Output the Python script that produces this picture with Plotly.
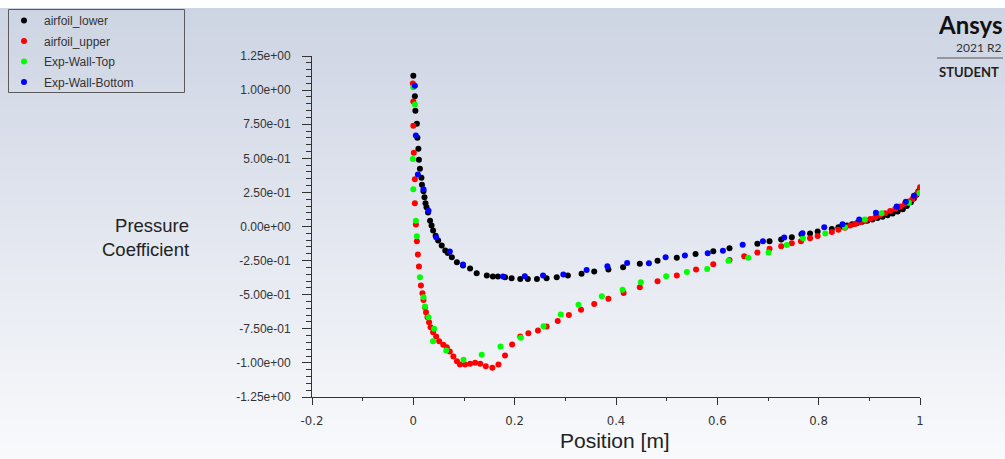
import plotly.graph_objects as go

# ---------------- data ----------------
lower_x = [0.000, 0.003, 0.004, 0.007, 0.008, 0.010, 0.011, 0.013, 0.016, 0.017, 0.020, 0.022,
           0.024, 0.026, 0.029, 0.033, 0.036, 0.039, 0.044, 0.049, 0.056, 0.063, 0.068, 0.076,
           0.086, 0.098, 0.112, 0.125, 0.145, 0.157, 0.167, 0.181, 0.194, 0.211, 0.226, 0.244,
           0.263, 0.283, 0.305, 0.332, 0.357, 0.385, 0.414, 0.447, 0.482, 0.520, 0.557, 0.592,
           0.624, 0.679, 0.703, 0.726, 0.747, 0.766, 0.783, 0.798, 0.826, 0.839,
           0.846, 0.856, 0.866, 0.876, 0.886, 0.896, 0.906, 0.916, 0.926, 0.936, 0.946, 0.956,
           0.966, 0.974, 0.982, 0.988, 0.993, 0.997, 1.000]
lower_y = [1.105, 0.954, 0.849, 0.754, 0.651, 0.570, 0.490, 0.424, 0.358, 0.307, 0.258, 0.214,
           0.170, 0.141, 0.102, 0.043, 0.007, -0.030, -0.067, -0.103, -0.140, -0.176, -0.195, -0.226,
           -0.262, -0.286, -0.308, -0.343, -0.360, -0.367, -0.367, -0.372, -0.379, -0.384, -0.384, -0.384,
           -0.379, -0.372, -0.360, -0.347, -0.330, -0.316, -0.299, -0.274, -0.252, -0.230, -0.201, -0.182,
           -0.160, -0.127, -0.108, -0.096, -0.079, -0.057, -0.052, -0.037, -0.018, -0.006,
           0.000, 0.008, 0.016, 0.025, 0.034, 0.043, 0.052, 0.062, 0.072, 0.083, 0.096, 0.110,
           0.127, 0.150, 0.178, 0.205, 0.232, 0.258, 0.272]

upper_x = [-0.001, 0.000, 0.000, 0.001, 0.003, 0.003, 0.005, 0.007, 0.009, 0.011, 0.015, 0.018,
           0.020, 0.023, 0.025, 0.028, 0.031, 0.034, 0.039, 0.045, 0.051, 0.059, 0.066, 0.072,
           0.079, 0.086, 0.092, 0.102, 0.112, 0.122, 0.132, 0.143, 0.156, 0.168, 0.181, 0.195,
           0.211, 0.227, 0.246, 0.263, 0.285, 0.307, 0.331, 0.357, 0.385, 0.415, 0.447, 0.482,
           0.520, 0.558, 0.592, 0.624, 0.653, 0.679, 0.703, 0.726, 0.747, 0.765, 0.783, 0.798,
           0.826, 0.839, 0.852, 0.862, 0.872, 0.882, 0.892, 0.902, 0.912, 0.921, 0.931, 0.941,
           0.951, 0.961, 0.970, 0.978, 0.985, 0.991, 0.996, 1.000]
upper_y = [1.049, 0.917, 0.739, 0.541, 0.347, 0.170, 0.014, -0.108, -0.206, -0.294, -0.433, -0.489,
           -0.538, -0.592, -0.629, -0.665, -0.702, -0.738, -0.775, -0.807, -0.841, -0.867, -0.885, -0.916,
           -0.953, -0.988, -1.012, -1.012, -1.007, -0.999, -1.007, -1.024, -1.036, -1.012, -0.946, -0.865,
           -0.807, -0.782, -0.763, -0.733, -0.692, -0.648, -0.611, -0.569, -0.530, -0.488, -0.445, -0.401,
           -0.360, -0.316, -0.277, -0.245, -0.218, -0.191, -0.164, -0.145, -0.123, -0.108, -0.086, -0.069,
           -0.040, -0.023, -0.010, 0.008, 0.019, 0.031, 0.043, 0.055, 0.067, 0.082, 0.097, 0.113,
           0.129, 0.147, 0.166, 0.184, 0.202, 0.226, 0.251, 0.287]

top_x = [0.000, 0.003, -0.001, 0.000, 0.005, 0.007, 0.013, 0.020, 0.023, 0.030, 0.041, 0.039,
         0.065, 0.099, 0.135, 0.172, 0.212, 0.257, 0.291, 0.326, 0.372, 0.413, 0.449, 0.499,
         0.540, 0.580, 0.622, 0.661, 0.701, 0.737, 0.769, 0.813, 0.852, 0.891, 0.924, 0.978, 0.999]
top_y = [1.020, 0.895, 0.494, 0.273, 0.043, -0.072, -0.372, -0.519, -0.587, -0.665, -0.750, -0.841,
         -0.909, -0.977, -0.941, -0.880, -0.816, -0.731, -0.645, -0.574, -0.511, -0.464, -0.409, -0.365,
         -0.333, -0.311, -0.252, -0.230, -0.191, -0.135, -0.086, -0.052, -0.006, 0.051, 0.098, 0.175, 0.246]

bottom_x = [0.003, 0.005, 0.009, 0.020, 0.030, 0.045, 0.072, 0.098, 0.177, 0.220, 0.256, 0.296,
            0.342, 0.383, 0.422, 0.465, 0.498, 0.536, 0.581, 0.611, 0.650, 0.690, 0.732, 0.768,
            0.811, 0.847, 0.880, 0.913, 0.954, 0.972, 0.988]
bottom_y = [1.032, 0.668, 0.382, 0.273, 0.116, -0.079, -0.184, -0.279, -0.367, -0.365, -0.360, -0.352,
            -0.318, -0.292, -0.267, -0.270, -0.226, -0.213, -0.196, -0.177, -0.133, -0.108, -0.081, -0.050,
            -0.006, 0.016, 0.051, 0.100, 0.146, 0.182, 0.226]

series_names = ["airfoil_lower", "airfoil_upper", "Exp-Wall-Top", "Exp-Wall-Bottom"]
series_colors = ["#000000", "#ff0000", "#00ff00", "#0000ff"]

x_tick_vals = [-0.2, 0, 0.2, 0.4, 0.6, 0.8, 1]
x_tick_text = ["-0.2", "0", "0.2", "0.4", "0.6", "0.8", "1"]
y_tick_vals = [1.25, 1.0, 0.75, 0.5, 0.25, 0.0, -0.25, -0.5, -0.75, -1.0, -1.25]
y_tick_text = ["1.25e+00", "1.00e+00", "7.50e-01", "5.00e-01", "2.50e-01", "0.00e+00",
               "-2.50e-01", "-5.00e-01", "-7.50e-01", "-1.00e+00", "-1.25e+00"]

x_title = "Position [m]"
y_title = "Pressure<br>Coefficient"

# ---------------- layout geometry ----------------
W, H = 1005, 459
ML, MR, MT, MB = 312, 85, 56, 62
PW, PH = W - ML - MR, H - MT - MB


def px(xp):
    return (xp - ML) / PW


def py(yp):
    return (H - MB - yp) / PH


FONT = "Liberation Sans, Arial, sans-serif"

fig = go.Figure()
series = [(lower_x, lower_y), (upper_x, upper_y), (top_x, top_y), (bottom_x, bottom_y)]
for (xs, ys), name, col in zip(series, series_names, series_colors):
    fig.add_trace(go.Scatter(x=xs, y=ys, mode="markers", name=name, legendgroup=name,
                             marker=dict(color=col, size=6, line=dict(width=0))))

# background gradient (bluish grey at top to near white at bottom)
shapes = []
top_c = (205, 212, 227)
bot_c = (249, 250, 252)
y_start = 8
step = 3
yy = y_start
while yy < H:
    t = (yy - y_start) / (H - y_start)
    c = tuple(round(top_c[i] + (bot_c[i] - top_c[i]) * t) for i in range(3))
    shapes.append(dict(type="rect", xref="paper", yref="paper", layer="below",
                       x0=px(0), x1=px(W), y0=py(min(yy + step, H)), y1=py(yy),
                       fillcolor="rgb(%d,%d,%d)" % c, line=dict(width=0)))
    yy += step

# legend frame
shapes.append(dict(type="rect", xref="paper", yref="paper", layer="above",
                   x0=px(8.5), x1=px(184.5), y0=py(92.5), y1=py(9.5),
                   line=dict(color="#5a5a5a", width=1), fillcolor="rgba(0,0,0,0)"))
# logo rule
shapes.append(dict(type="line", xref="paper", yref="paper", layer="above",
                   x0=px(937), x1=px(1003), y0=py(58), y1=py(58),
                   line=dict(color="#808080", width=1.5)))

annotations = [
    dict(text=y_title, x=px(191), y=py(237), xref="paper", yref="paper", showarrow=False,
         font=dict(family=FONT, size=18.5, color="#222222"), align="right",
         xanchor="right", yanchor="middle"),
    dict(text=x_title, x=px(615), y=py(441), xref="paper", yref="paper", showarrow=False,
         font=dict(family=FONT, size=21, color="#222222"), xanchor="center", yanchor="middle"),
    dict(text="<b>Ansys</b>", x=px(1004), y=py(24), xref="paper", yref="paper", showarrow=False,
         font=dict(family="Lato, Liberation Sans, sans-serif", size=24, color="#111111"),
         xanchor="right", yanchor="middle"),
    dict(text="2021 R2", x=px(1003), y=py(47), xref="paper", yref="paper", showarrow=False,
         font=dict(family="Lato, Liberation Sans, sans-serif", size=12, color="#333333"),
         xanchor="right", yanchor="middle"),
    dict(text="<b>STUDENT</b>", x=px(1001), y=py(72), xref="paper", yref="paper", showarrow=False,
         font=dict(family="Lato, Liberation Sans, sans-serif", size=13, color="#222222"),
         xanchor="right", yanchor="middle"),
]

fig.update_layout(
    width=W, height=H,
    margin=dict(l=ML, r=MR, t=MT, b=MB, pad=0, autoexpand=False),
    paper_bgcolor="white",
    plot_bgcolor="rgba(0,0,0,0)",
    font=dict(family=FONT, color="#333333"),
    shapes=shapes,
    annotations=annotations,
    showlegend=True,
    legend=dict(x=px(4), y=py(6), xanchor="left", yanchor="top",
                bgcolor="rgba(0,0,0,0)", borderwidth=0,
                font=dict(family=FONT, size=12, color="#333333"),
                itemclick=False, tracegroupgap=1.5),
    xaxis=dict(range=[-0.2, 1.0], showgrid=False, zeroline=False, showline=True,
               linecolor="#333333", linewidth=1, ticks="outside", ticklen=7, tickcolor="#333333",
               tickvals=x_tick_vals, ticktext=x_tick_text, ticklabelstandoff=4,
               tickfont=dict(family="Liberation Sans Narrow, DejaVu Sans Condensed, sans-serif",
                             size=13, color="#333333"),
               minor=dict(ticks="outside", ticklen=3, dtick=0.1, tick0=0, tickcolor="#333333", showgrid=False)),
    yaxis=dict(range=[-1.25, 1.25], showgrid=False, zeroline=False, showline=True,
               linecolor="#333333", linewidth=1, ticks="outside", ticklen=9, tickcolor="#333333",
               tickvals=y_tick_vals, ticktext=y_tick_text, ticklabelstandoff=9,
               tickfont=dict(family=FONT, size=12, color="#333333"),
               minor=dict(ticks="outside", ticklen=5, dtick=0.05, tick0=0, tickcolor="#333333", showgrid=False)),
)

fig.write_html("out.html")
